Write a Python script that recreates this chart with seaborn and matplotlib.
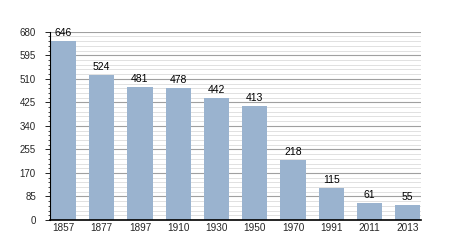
import matplotlib
matplotlib.use("Agg")
import matplotlib.pyplot as plt
import seaborn as sns
import pandas as pd
from matplotlib.ticker import MultipleLocator

years = ["1857", "1877", "1897", "1910", "1930", "1950", "1970", "1991", "2011", "2013"]
population = [646, 524, 481, 478, 442, 413, 218, 115, 61, 55]
y_ticks = [0, 85, 170, 255, 340, 425, 510, 595, 680]

df = pd.DataFrame({"year": years, "pop": population})

sns.set_theme(style="white")
plt.rcParams['font.family'] = ['Liberation Sans', 'DejaVu Sans']

fig = plt.figure(figsize=(4.5, 2.5), dpi=100)
ax = fig.add_axes([0.111, 0.12, 0.825, 0.753])

sns.barplot(data=df, x="year", y="pop", color="#9ab3cf", saturation=1, width=0.66,
            linewidth=0, edgecolor="none", ax=ax, zorder=3)

ax.set_ylim(0, 680)
ax.set_xlim(-0.35, 9.35)
ax.set_yticks(y_ticks)
ax.yaxis.set_minor_locator(MultipleLocator(17))
ax.grid(axis="y", which="major", color="#a0a0a0", linewidth=0.8, zorder=0)
ax.grid(axis="y", which="minor", color="#dcdcdc", linewidth=0.6, zorder=0)
ax.set_axisbelow(True)

for s in ["top", "right"]:
    ax.spines[s].set_visible(False)
for s in ["left", "bottom"]:
    ax.spines[s].set_color("black")
    ax.spines[s].set_zorder(5)
ax.spines["left"].set_linewidth(0.8)
ax.spines["bottom"].set_linewidth(1.2)

ax.tick_params(axis="y", which="major", left=True, length=3.6, width=0.6, color="black", labelsize=7, pad=6.5)
ax.tick_params(axis="y", which="minor", left=True, length=1.6, width=0.5, color="black")
ax.tick_params(axis="x", bottom=False, length=0, labelsize=7.2, pad=2.5)
ax.set_xlabel("")
ax.set_ylabel("")

for i, v in enumerate(population):
    ax.text(i, v + 10, str(v), ha="center", va="bottom", fontsize=7.5, color="black")

fig.savefig("out.png", dpi=100)
